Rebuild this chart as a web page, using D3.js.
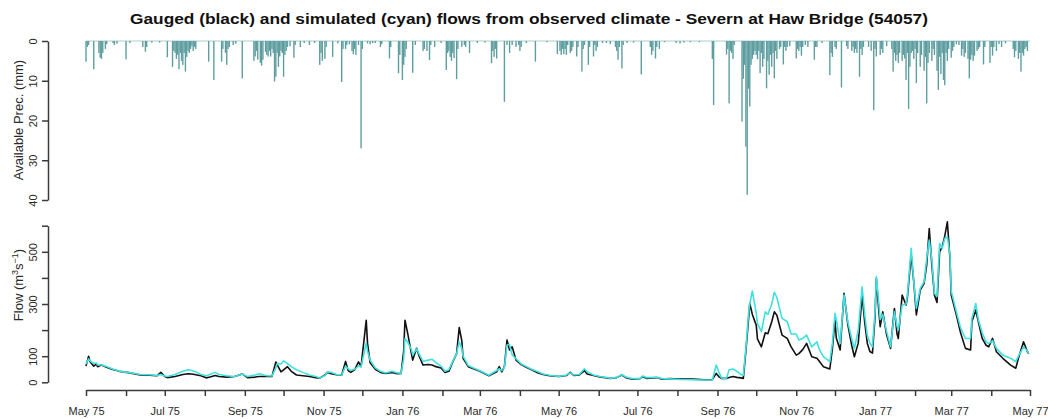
<!DOCTYPE html>
<html>
<head>
<meta charset="utf-8">
<script src="https://cdn.jsdelivr.net/npm/d3@7"></script>
<style>
  html, body { margin: 0; padding: 0; background: #fff; }
  svg { display: block; font-family: "Liberation Sans", Arial, Helvetica, sans-serif; }
</style>
</head>
<body>
<svg id="chart" width="1048" height="419"></svg>
<script>
// ---------------- DATA ----------------
const titleText = "Gauged (black) and simulated (cyan) flows from observed climate - Severn at Haw Bridge (54057)";
const recordStart = "1975-05-01";
const recordEnd = "1977-05-01";

// Flow (m3/s)
const flowDates = [
"1975-05-01","1975-05-03","1975-05-04","1975-05-07","1975-05-09","1975-05-10","1975-05-13","1975-05-16","1975-05-21","1975-05-27",
"1975-06-04","1975-06-12","1975-06-19","1975-06-25","1975-06-28","1975-07-01","1975-07-03","1975-07-09","1975-07-15","1975-07-19",
"1975-07-22","1975-07-26","1975-07-29","1975-08-02","1975-08-05","1975-08-09","1975-08-12","1975-08-18","1975-08-24","1975-08-30",
"1975-09-03","1975-09-09","1975-09-12","1975-09-18","1975-09-22","1975-09-25","1975-09-26","1975-09-29","1975-10-01","1975-10-04",
"1975-10-07","1975-10-11","1975-10-16","1975-10-21","1975-10-26","1975-10-29","1975-11-02","1975-11-04","1975-11-07","1975-11-11",
"1975-11-15","1975-11-18","1975-11-20","1975-11-22","1975-11-25","1975-11-28","1975-11-30","1975-12-04","1975-12-05","1975-12-07",
"1975-12-11","1975-12-15","1975-12-19","1975-12-24","1975-12-28","1975-12-31","1976-01-02","1976-01-03","1976-01-05","1976-01-08",
"1976-01-09","1976-01-12","1976-01-14","1976-01-17","1976-01-21","1976-01-24","1976-01-27","1976-01-31","1976-02-03","1976-02-06",
"1976-02-09","1976-02-12","1976-02-14","1976-02-16","1976-02-17","1976-02-21","1976-02-25","1976-03-01","1976-03-08","1976-03-14",
"1976-03-16","1976-03-18","1976-03-20","1976-03-22","1976-03-24","1976-03-26","1976-03-29","1976-04-02","1976-04-06","1976-04-10",
"1976-04-14","1976-04-19","1976-04-24","1976-05-01","1976-05-07","1976-05-10","1976-05-13","1976-05-17","1976-05-21","1976-05-23",
"1976-05-28","1976-06-02","1976-06-10","1976-06-15","1976-06-19","1976-06-22","1976-06-27","1976-07-03","1976-07-05","1976-07-08",
"1976-07-16","1976-07-20","1976-07-26","1976-08-03","1976-08-13","1976-08-22","1976-08-28","1976-08-31","1976-09-02","1976-09-04",
"1976-09-08","1976-09-10","1976-09-13","1976-09-16","1976-09-19","1976-09-21","1976-09-23","1976-09-25","1976-09-26","1976-09-28",
"1976-10-01","1976-10-02","1976-10-05","1976-10-08","1976-10-10","1976-10-13","1976-10-15","1976-10-17","1976-10-21","1976-10-25",
"1976-10-28","1976-11-01","1976-11-03","1976-11-06","1976-11-09","1976-11-13","1976-11-17","1976-11-19","1976-11-22","1976-11-27",
"1976-11-29","1976-12-01","1976-12-02","1976-12-05","1976-12-08","1976-12-11","1976-12-14","1976-12-16","1976-12-19","1976-12-22",
"1976-12-24","1976-12-26","1976-12-28","1976-12-30","1977-01-01","1977-01-02","1977-01-04","1977-01-05","1977-01-07","1977-01-10",
"1977-01-13","1977-01-16","1977-01-18","1977-01-19","1977-01-22","1977-01-25","1977-01-26","1977-01-29","1977-01-31","1977-02-02",
"1977-02-05","1977-02-08","1977-02-10","1977-02-12","1977-02-14","1977-02-16","1977-02-18","1977-02-20","1977-02-22","1977-02-24",
"1977-02-26","1977-02-28","1977-03-01","1977-03-05","1977-03-08","1977-03-12","1977-03-16","1977-03-17","1977-03-20","1977-03-22",
"1977-03-25","1977-03-28","1977-03-30","1977-04-02","1977-04-05","1977-04-10","1977-04-16","1977-04-20","1977-04-22","1977-04-26",
"1977-04-29","1977-04-30"];

const gaugedFlow = [
62,100,80,62,70,60,66,60,50,42,
36,28,27,25,38,22,18,22,30,33,
32,28,25,17,20,26,22,20,22,32,
18,20,22,22,22,78,68,40,48,60,
42,28,25,22,18,16,28,38,33,29,
28,80,45,38,48,78,60,238,150,75,
50,38,34,38,33,34,120,238,190,110,
85,130,100,66,68,66,60,55,38,42,
78,110,210,160,92,60,52,42,25,40,
60,40,60,162,124,136,85,68,58,48,
38,30,25,22,26,38,26,28,45,32,
26,20,15,18,28,18,12,14,22,15,
18,12,14,12,12,10,10,34,22,15,
15,18,22,19,17,15,120,240,302,260,
219,165,136,190,186,232,270,257,181,168,
136,104,110,125,149,98,92,80,60,51,
130,238,170,124,341,219,140,98,150,334,
230,150,118,112,250,398,270,213,270,181,
130,283,186,168,334,296,322,487,385,258,
353,379,450,589,449,334,306,500,520,560,
615,475,334,258,194,130,124,232,277,232,
168,142,136,168,117,92,66,54,92,155,
117,110];

const simulatedFlow = [
70,90,82,72,74,66,66,62,52,42,
37,30,29,26,30,24,22,30,42,48,
45,38,30,25,30,38,30,25,22,32,
22,28,33,25,24,55,72,70,82,72,
60,48,38,28,22,16,26,40,38,30,
28,62,52,45,50,62,60,150,120,85,
55,42,36,42,36,35,90,168,155,125,
104,128,108,80,85,88,75,62,42,48,
80,110,155,130,100,64,55,44,27,45,
52,45,58,143,145,105,90,70,60,50,
42,32,27,22,28,36,28,30,52,40,
28,22,16,18,30,20,14,14,24,18,
19,14,13,11,10,9,9,66,40,17,
15,48,51,42,30,27,130,260,300,350,
265,225,194,270,260,300,345,325,245,232,
185,185,162,168,181,136,155,125,98,79,
150,264,240,149,334,230,165,130,200,366,
260,180,150,136,270,405,300,240,260,194,
136,270,215,200,296,300,330,513,385,283,
360,385,475,545,470,340,330,532,513,551,
557,490,350,270,213,168,168,245,302,240,
190,155,148,160,130,104,92,79,100,136,
120,110];

// Available precipitation (mm): [day number since 1 May 1975, mm]
const precipitation = [
[0,5.2],[1,1.5],[2,1],[6,7.1],[10,3],[11,4.2],[12,4.5],[13,3],[15,2],[16,0.8],[21,0.5],[22,1],[24,0.7],[31,4.6],[34,0.5],[44,1.5],[46,2.7],[47,1.5],[51,0.4],[57,0.4],
[63,4.1],[67,6.5],[68,2.5],[69,3],[70,4.5],[71,3.5],[72,7.1],[73,3],[74,5],[75,6],[76,3],[77,7.7],[78,4],[79,2.5],[80,3],[81,2],[82,1.2],[83,2.5],[84,1.5],[85,2],
[95,5.2],[99,9.8],[105,5.2],[106,2],[108,3],[109,6],[110,2],[111,1.5],[114,1],[116,0.7],[121,9.4],[130,5],[131,3.9],[132,2.5],[133,4.7],[135,5.5],[136,6.2],[137,4.7],[139,2.7],[140,3.5],
[141,3.9],[142,2.5],[143,3.9],[144,2],[145,3],[146,10.2],[147,9],[148,3],[149,6.5],[150,3.9],[151,2.5],[152,3],[153,9],[154,3.5],[155,2.5],[156,1.5],[158,1.3],[161,4.2],[162,1],[166,1.5],
[169,0.5],[173,1],[177,0.5],[181,6],[182,3],[183,5],[185,4.5],[186,1.5],[191,4],[195,0.6],[198,10.3],[199,2],[201,2],[202,1],[204,0.8],[206,2.5],[207,3.3],[208,2],[209,3.5],[211,1],
[213,27],[214,2],[218,0.6],[220,0.8],[222,0.5],[224,0.5],[228,1.5],[229,0.8],[235,4.4],[236,1.5],[242,8.1],[243,3.5],[245,9.8],[246,6],[247,4],[248,2],[253,8],[255,1],[261,2.5],[262,2],
[264,2.5],[266,4.8],[267,1],[270,1.5],[275,0.5],[279,7.3],[280,3],[281,2.5],[282,4],[283,5],[284,3],[285,4.3],[287,9.6],[288,2],[291,1.5],[293,1],[294,1.5],[297,3],[303,0.5],[309,0.4],
[314,5.6],[315,2.5],[316,4],[317,2],[318,4.4],[324,15.3],[326,1],[328,3],[330,1],[333,1.5],[335,1],[336,2.5],[337,1.5],[341,0.5],[348,5.2],[357,0.3],[365,3.3],[367,2.5],[368,3.5],[369,2],
[370,3.3],[371,2],[372,3.5],[373,1],[375,3],[376,2.5],[377,1.5],[380,3.9],[381,1.5],[384,7.7],[385,2],[386,1],[389,6],[390,1.5],[393,3.9],[394,1],[395,2.5],[396,1.5],[400,0.5],[403,0.5],
[406,0.8],[410,1.5],[411,2.5],[412,4.7],[413,1.5],[415,6.9],[416,1],[419,0.5],[424,0.4],[430,8.4],[437,1.5],[438,3.5],[439,2.5],[441,4.4],[442,1.5],[444,2],[448,0.3],[457,0.5],[460,0.6],[463,0.4],
[468,0.3],[475,0.3],[485,4.5],[486,16.1],[496,3.4],[497,2],[498,15.7],[499,2.5],[500,3],[501,4.5],[502,1],[508,20.3],[509,9.5],[510,6],[511,26.6],[512,38.7],[513,12],[514,16.5],[515,6],[516,4.5],
[517,3.5],[518,2.5],[519,3.5],[520,4.6],[521,2.5],[522,8.1],[523,3],[524,6.5],[525,4.5],[527,11.9],[528,5],[529,8.5],[530,3.5],[531,6.5],[532,3],[533,9.4],[534,2.5],[535,4.5],[537,2],[538,1.5],
[540,5.9],[541,1.5],[542,2.5],[543,1.5],[545,1.3],[550,4.4],[551,2],[552,2.5],[553,1.5],[554,3.7],[555,1.5],[557,1],[559,1.5],[564,4.7],[565,1.5],[566,1.5],[570,0.5],[576,8.6],[577,3],[578,4],
[580,1.5],[581,2],[585,11.7],[589,1.3],[590,2],[593,2.5],[594,1.5],[595,3],[596,2],[597,3],[599,9],[600,2],[601,3.5],[602,1.5],[606,1.5],[608,2.5],[610,17.4],[611,2],[612,3.9],[615,3.5],
[616,2],[617,3],[620,1.3],[624,2],[625,7.7],[626,3],[627,5],[628,3.5],[629,5.5],[630,3],[632,5],[633,3.5],[634,4.4],[635,9.8],[636,3],[637,17.1],[638,6.5],[639,3],[640,2.5],[641,4.5],
[642,2],[643,10.6],[644,3],[646,6.5],[647,3.5],[649,7.5],[650,4],[651,15.7],[652,5.5],[653,3],[655,5],[656,2],[657,3.5],[659,7.5],[660,12.3],[661,4],[662,8.3],[663,3],[664,9.8],[665,11.1],
[666,3],[667,5],[668,2],[670,4.2],[671,2.5],[672,1.5],[674,0.8],[676,1],[678,3.7],[679,2],[680,4],[681,3],[683,4.5],[684,9.4],[685,4.7],[686,3.5],[687,5],[688,3.7],[690,2.5],[691,2],
[692,1.5],[695,5.9],[696,1.5],[700,5.5],[701,1.5],[702,3.7],[703,1.5],[705,2.5],[707,0.8],[709,1.5],[712,0.6],[718,2],[719,4.1],[720,2.5],[722,4.5],[723,3],[724,7.7],[725,3],[726,3.7],[727,2],
[728,1.5],[729,2.5]];

const precTicks = [0, 10, 20, 30, 40];
const flowTicks = [0, 100, 200, 300, 400, 500, 600];
const flowTickLabels = ["0", "100", "", "300", "", "500", ""];

// ---------------- DRAW ----------------
const parse = d3.timeParse("%Y-%m-%d");
const t0 = parse(recordStart), t1 = parse(recordEnd);
const svg = d3.select("#chart");

const x = d3.scaleTime().domain([t0, t1]).range([86, 1030]);
const yP = d3.scaleLinear().domain([0, 40]).range([41, 200]);
const yF = d3.scaleLinear().domain([0, 600]).range([382.3, 225.7]);

const axisColor = "#3a3a3a";
const textColor = "#2a2a2a";

// title
svg.append("text")
  .attr("x", 529).attr("y", 24)
  .attr("text-anchor", "middle")
  .attr("font-weight", "bold")
  .attr("font-size", 15)
  .attr("fill", "#111")
  .attr("textLength", 798).attr("lengthAdjust", "spacingAndGlyphs")
  .text(titleText);

// precipitation baseline
svg.append("line")
  .attr("x1", x(t0)).attr("x2", x(t1))
  .attr("y1", yP(0)).attr("y2", yP(0))
  .attr("stroke", "#a9cfcf").attr("stroke-width", 1);

// precipitation bars
svg.append("g").selectAll("rect")
  .data(precipitation)
  .join("rect")
  .attr("x", d => x(d3.timeDay.offset(t0, d[0])) - 0.7)
  .attr("width", 1.4)
  .attr("y", yP(0))
  .attr("height", d => yP(d[1]) - yP(0))
  .attr("fill", "#5f9ea0");

// precipitation axis
const gP = svg.append("g").attr("transform", "translate(48,0)")
  .call(d3.axisLeft(yP).tickValues(precTicks).tickSize(6).tickSizeOuter(0));
// flow axis
const gF = svg.append("g").attr("transform", "translate(48,0)")
  .call(d3.axisLeft(yF).tickValues(flowTicks).tickSize(6).tickSizeOuter(0)
        .tickFormat((d, i) => flowTickLabels[i]));

[gP, gF].forEach(g => {
  g.select(".domain").attr("stroke", axisColor).attr("stroke-width", 1.5);
  g.selectAll(".tick line").attr("stroke", axisColor).attr("stroke-width", 1.5);
  g.selectAll(".tick text")
    .attr("x", null).attr("dy", null)
    .attr("transform", "translate(-11,0) rotate(-90)")
    .attr("text-anchor", "middle")
    .attr("font-size", 11)
    .attr("font-family", "Liberation Sans, Arial, sans-serif")
    .attr("fill", textColor);
});

// x axis
const gX = svg.append("g").attr("transform", "translate(0,390)")
  .call(d3.axisBottom(x).ticks(d3.timeMonth.every(1)).tickSize(6).tickSizeOuter(0)
        .tickFormat(d => (d.getMonth() % 2 === 0) ? d3.timeFormat("%b %y")(d) : ""));
gX.select(".domain").attr("stroke", axisColor).attr("stroke-width", 1.5);
gX.selectAll(".tick line").attr("stroke", axisColor).attr("stroke-width", 1.5);
gX.selectAll(".tick text")
  .attr("y", 17)
  .attr("font-size", 11)
  .attr("font-family", "Liberation Sans, Arial, sans-serif")
  .attr("fill", textColor);

// y labels
svg.append("text")
  .attr("transform", "translate(23,120) rotate(-90)")
  .attr("text-anchor", "middle")
  .attr("font-size", 13)
  .attr("fill", textColor)
  .text("Available Prec. (mm)");

const fl = svg.append("text")
  .attr("transform", "translate(23,285) rotate(-90)")
  .attr("text-anchor", "middle")
  .attr("font-size", 13)
  .attr("fill", textColor);
fl.append("tspan").text("Flow (m");
fl.append("tspan").attr("dy", -5).attr("font-size", 9).text("3");
fl.append("tspan").attr("dy", 5).text("s");
fl.append("tspan").attr("dy", -5).attr("font-size", 9).text("\u22121");
fl.append("tspan").attr("dy", 5).text(")");

// flow lines
const flowPts = flowDates.map((d, i) => ({ date: parse(d), g: gaugedFlow[i], s: simulatedFlow[i] }));
const lineG = d3.line().x(d => x(d.date)).y(d => yF(d.g));
const lineS = d3.line().x(d => x(d.date)).y(d => yF(d.s));

svg.append("path").datum(flowPts)
  .attr("d", lineG).attr("fill", "none")
  .attr("stroke", "#111").attr("stroke-width", 1.6).attr("stroke-linejoin", "round");
svg.append("path").datum(flowPts)
  .attr("d", lineS).attr("fill", "none")
  .attr("stroke", "#3fe0e0").attr("stroke-width", 1.6).attr("stroke-linejoin", "round");
</script>
</body>
</html>
